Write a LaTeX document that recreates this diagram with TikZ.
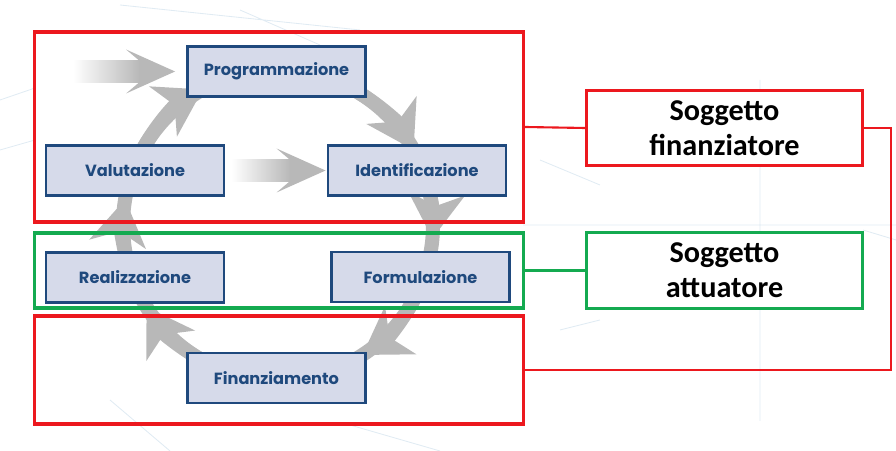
\documentclass[tikz,border=0pt]{standalone}
\usepackage{fontspec}
\setmainfont{Carlito}
\newfontfamily\gothic{Poppins}
\usetikzlibrary{arrows.meta,calc}

\definecolor{rosso}{RGB}{236,24,30}
\definecolor{verde}{RGB}{20,170,80}
\definecolor{bluscuro}{RGB}{31,73,125}
\definecolor{lilla}{RGB}{214,218,234}
\definecolor{grigio}{RGB}{184,184,184}
\definecolor{sfondo}{RGB}{224,235,243}

\tikzset{
  fase/.style={draw=bluscuro, line width=2pt, fill=lilla, minimum width=4.45cm, minimum height=1.25cm, inner sep=0pt, text=bluscuro, font=\gothic\bfseries\fontsize{11.5}{13}\selectfont},
  cornice/.style={draw=#1, line width=2.2pt, minimum width=12.2cm, inner sep=0pt},
  soggetto/.style={draw=#1, line width=2.2pt, fill=white, minimum width=6.9cm, minimum height=1.88cm, align=center, font=\bfseries\fontsize{21.5}{25}\selectfont},
  ciclo/.style={grigio, line width=10pt},
  punta/.style={grigio, line width=10pt, -{Stealth[length=32pt,width=40pt,inset=9pt]}}
}

\begin{document}
\begin{tikzpicture}[x=0.025cm,y=0.025cm]
    \useasboundingbox (0,0) rectangle (896,451);
    %sfondo
    \draw[sfondo, line width=0.6pt] (120,446) -- (360,421) (240,441) -- (320,406) (0,351) -- (35,363) (0,301) -- (35,311);
    \draw[sfondo, line width=0.6pt] (540,291) -- (600,266) (523,226) -- (896,226) (760,371) -- (760,30) (863,221) -- (896,211);
    \draw[sfondo, line width=0.6pt] (110,51) -- (170,0) (350,26) -- (440,0) (560,121) -- (600,131);

    %ciclo
    \coordinate (centro) at (278,226);
    \draw[ciclo] ([shift={(62:155)}]centro) arc[start angle=62, end angle=24, radius=155];
    \draw[punta] ([shift={(62:155)}]centro) arc[start angle=62, end angle=29, radius=155];
    \draw[ciclo] ([shift={(14:155)}]centro) arc[start angle=14, end angle=-12, radius=155];
    \draw[punta] ([shift={(14:155)}]centro) arc[start angle=14, end angle=-5, radius=155];
    \draw[ciclo] ([shift={(-25:155)}]centro) arc[start angle=-25, end angle=-62, radius=155];
    \draw[punta] ([shift={(-25:155)}]centro) arc[start angle=-25, end angle=-57, radius=155];
    \draw[ciclo] ([shift={(-115:155)}]centro) arc[start angle=-115, end angle=-158, radius=155];
    \draw[punta] ([shift={(-115:155)}]centro) arc[start angle=-115, end angle=-148, radius=155];
    \draw[ciclo] ([shift={(-160:155)}]centro) arc[start angle=-160, end angle=-197, radius=155];
    \draw[punta] ([shift={(-160:155)}]centro) arc[start angle=-160, end angle=-189.5, radius=155];
    \draw[ciclo] ([shift={(155:155)}]centro) arc[start angle=155, end angle=112, radius=155];
    \draw[punta] ([shift={(155:155)}]centro) arc[start angle=155, end angle=119, radius=155];

    %cornici
    \node[cornice=rosso, minimum height=4.75cm] (ftop) at (279,324) {};
    \node[cornice=verde, minimum height=1.875cm] (fmid) at (279,180.5) {};
    \node[cornice=rosso, minimum height=2.7cm] (fbot) at (279,81) {};

    %fasi
    \node[fase] (prog) at (276.5,379.5) {Programmazione};
    \node[fase] (valut) at (135,280.5) {Valutazione};
    \node[fase] (ident) at (417,280.5) {Identificazione};
    \node[fase] (realiz) at (135,173.5) {Realizzazione};
    \node[fase] (formul) at (420.5,174) {Formulazione};
    \node[fase] (finanz) at (276.5,73) {Finanziamento};

    %frecce dritte
    \coordinate (inizio) at (73,379.5);
    \shade[left color=white, right color=grigio] ($(inizio)+(0,-11)$) rectangle ($(prog.west)+(-46,11)$);
    \fill[grigio] ($(prog.west)+(-47,11)$) -- ($(prog.west)+(-60,22)$) -- ($(prog.west)+(-11,0)$) -- ($(prog.west)+(-60,-22)$) -- ($(prog.west)+(-47,-11)$) -- cycle;
    \shade[left color=white, right color=grigio] ($(valut.east)+(6,-11)$) rectangle ($(ident.west)+(-36,11)$);
    \fill[grigio] ($(ident.west)+(-37,11)$) -- ($(ident.west)+(-50,22)$) -- ($(ident.west)+(-1,0)$) -- ($(ident.west)+(-50,-22)$) -- ($(ident.west)+(-37,-11)$) -- cycle;

    %soggetti
    \node[soggetto=rosso] (sfin) at (724.5,323) {Soggetto\\finanziatore};
    \node[soggetto=verde] (satt) at (724.5,180.5) {Soggetto\\attuatore};
    \draw[rosso, line width=1.5pt] (ftop.east) -- (sfin.west);
    \draw[verde, line width=1.5pt] (fmid.east) -- (satt.west);
    \draw[rosso, line width=1.5pt] (sfin.east) -- ++(27,0) |- (fbot.east);
\end{tikzpicture}
\end{document}
